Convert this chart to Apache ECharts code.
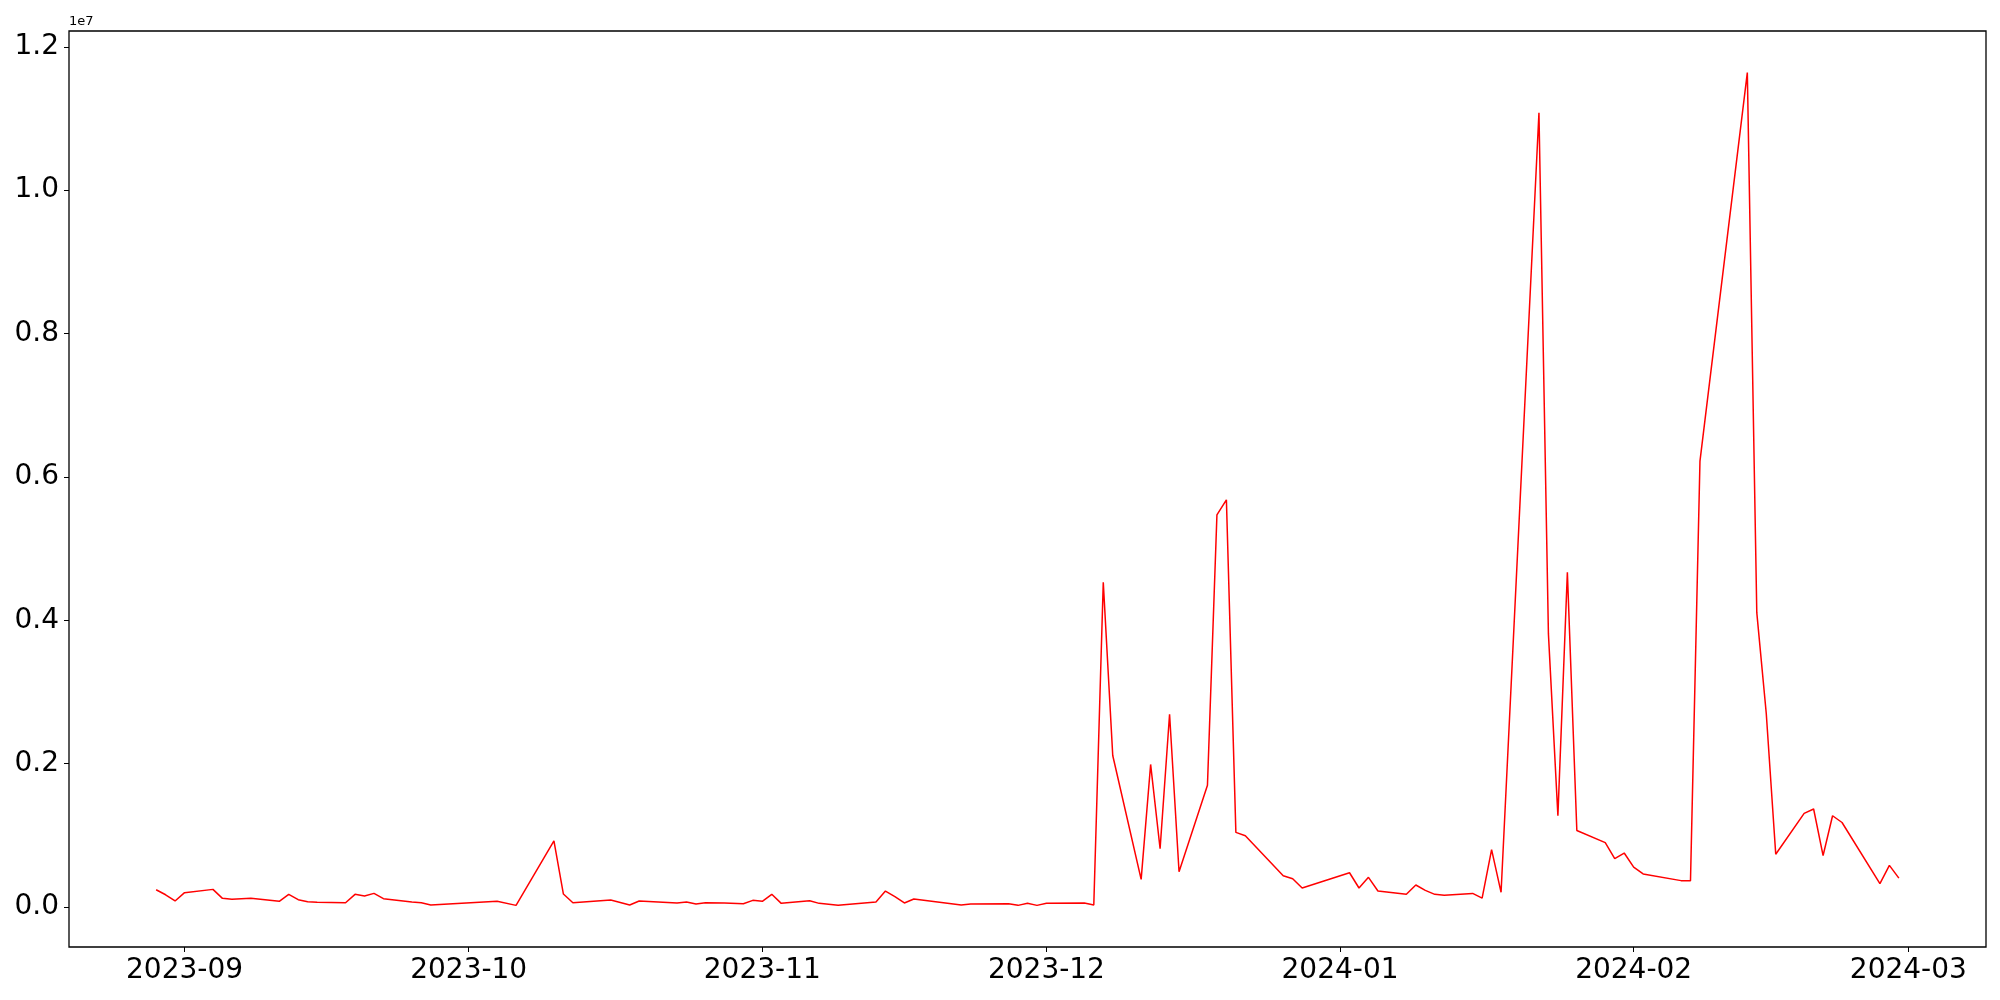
<!DOCTYPE html>
<html>
<head>
<meta charset="utf-8">
<script src="https://cdn.jsdelivr.net/npm/echarts@6/dist/echarts.min.js"></script>
<style>
  html, body { margin: 0; padding: 0; background: #fff; }
  #chart { width: 2000px; height: 1000px; }
</style>
</head>
<body>
<div id="chart"></div>
<script>
// dates
const dates = [
  '2023-08-29', '2023-08-30', '2023-08-31', '2023-09-01', '2023-09-04', '2023-09-05', '2023-09-06',
  '2023-09-08', '2023-09-11', '2023-09-12', '2023-09-13', '2023-09-14', '2023-09-15', '2023-09-18',
  '2023-09-19', '2023-09-20', '2023-09-21', '2023-09-22', '2023-09-25', '2023-09-26', '2023-09-27',
  '2023-10-04', '2023-10-06', '2023-10-10', '2023-10-11', '2023-10-12', '2023-10-16', '2023-10-18',
  '2023-10-19', '2023-10-23', '2023-10-24', '2023-10-25', '2023-10-26', '2023-10-28', '2023-10-30',
  '2023-10-31', '2023-11-01', '2023-11-02', '2023-11-03', '2023-11-06', '2023-11-07', '2023-11-09',
  '2023-11-13', '2023-11-14', '2023-11-15', '2023-11-16', '2023-11-17', '2023-11-22', '2023-11-23',
  '2023-11-27', '2023-11-28', '2023-11-29', '2023-11-30', '2023-12-01', '2023-12-05', '2023-12-06',
  '2023-12-07', '2023-12-08', '2023-12-11', '2023-12-12', '2023-12-13', '2023-12-14', '2023-12-15',
  '2023-12-18', '2023-12-19', '2023-12-20', '2023-12-21', '2023-12-22', '2023-12-26', '2023-12-27',
  '2023-12-28', '2024-01-02', '2024-01-03', '2024-01-04', '2024-01-05', '2024-01-08', '2024-01-09',
  '2024-01-10', '2024-01-11', '2024-01-12', '2024-01-15', '2024-01-16', '2024-01-17', '2024-01-18',
  '2024-01-22', '2024-01-23', '2024-01-24', '2024-01-25', '2024-01-26', '2024-01-29', '2024-01-30',
  '2024-01-31', '2024-02-01', '2024-02-02', '2024-02-06', '2024-02-07', '2024-02-08', '2024-02-13',
  '2024-02-14', '2024-02-15', '2024-02-16', '2024-02-19', '2024-02-20', '2024-02-21', '2024-02-22',
  '2024-02-23', '2024-02-27', '2024-02-28', '2024-02-29'
];

// values in units of 1e6
const values = [
  0.241, 0.171, 0.084, 0.200, 0.246, 0.121, 0.107,
  0.121, 0.079, 0.177, 0.102, 0.074, 0.065, 0.060,
  0.177, 0.153, 0.190, 0.116, 0.070, 0.060, 0.028,
  0.079, 0.023, 0.924, 0.181, 0.060, 0.098, 0.028,
  0.084, 0.056, 0.070, 0.042, 0.060, 0.056, 0.046,
  0.093, 0.079, 0.177, 0.051, 0.088, 0.051, 0.023,
  0.070, 0.223, 0.144, 0.056, 0.111, 0.028, 0.042,
  0.046, 0.023, 0.051, 0.023, 0.051, 0.056, 0.028,
  4.530, 2.114, 0.386, 1.989, 0.813, 2.690, 0.492,
  1.700, 5.470, 5.680, 1.041, 0.994, 0.437, 0.395,
  0.265, 0.478, 0.265, 0.414, 0.223, 0.177, 0.307,
  0.232, 0.177, 0.163, 0.190, 0.125, 0.800, 0.205,
  11.08, 3.810, 1.273, 4.670, 1.068, 0.898, 0.676,
  0.753, 0.556, 0.461, 0.368, 0.368, 6.220, 11.64,
  4.106, 2.700, 0.736, 1.307, 1.367, 0.718, 1.273,
  1.179, 0.326, 0.581, 0.403
];

const monthTicks = ['2023-09-01', '2023-10-01', '2023-11-01', '2023-12-01', '2024-01-01', '2024-02-01', '2024-03-01'];
const yTicks = [0, 2e6, 4e6, 6e6, 8e6, 10e6, 12e6];

function toTime(s) {
  const p = s.split('-');
  return new Date(+p[0], +p[1] - 1, +p[2]).getTime();
}

const pts = dates.map((d, i) => [toTime(d), values[i] * 1e6]);
const t0 = pts[0][0], t1 = pts[pts.length - 1][0];
const xPad = (t1 - t0) * 0.05;
const vMin = Math.min.apply({}, pts.map(p => p[1]));
const vMax = Math.max.apply({}, pts.map(p => p[1]));
const yPad = (vMax - vMin) * 0.05;
const xTickVals = monthTicks.map(toTime);

const chart = echarts.init(document.getElementById('chart'));
chart.setOption({
  animation: false,
  grid: {
    left: 69,
    right: 14,
    top: 31,
    bottom: 53,
    show: true,
    borderColor: '#000',
    borderWidth: 1.3,
    containLabel: false
  },
  xAxis: {
    type: 'value',
    min: t0 - xPad,
    max: t1 + xPad,
    scale: true,
    axisLine: { show: false, onZero: false },
    splitLine: { show: false },
    axisTick: {
      show: true,
      length: 5,
      customValues: xTickVals,
      lineStyle: { color: '#000', width: 1 }
    },
    axisLabel: {
      customValues: xTickVals,
      margin: 10,
      color: '#000',
      fontFamily: 'DejaVu Sans',
      fontSize: 28,
      formatter: function (v) {
        const d = new Date(v);
        const m = d.getMonth() + 1;
        return d.getFullYear() + '-' + (m < 10 ? '0' + m : m);
      }
    }
  },
  yAxis: {
    type: 'value',
    min: vMin - yPad,
    max: vMax + yPad,
    axisLine: { show: false, onZero: false },
    splitLine: { show: false },
    axisTick: {
      show: true,
      length: 5,
      customValues: yTicks,
      lineStyle: { color: '#000', width: 1 }
    },
    axisLabel: {
      customValues: yTicks,
      margin: 10,
      color: '#000',
      fontFamily: 'DejaVu Sans',
      fontSize: 28,
      formatter: function (v) {
        return (v / 1e7).toFixed(1);
      }
    }
  },
  graphic: [
    {
      type: 'text',
      left: 69,
      top: 15,
      style: { text: '1e7', font: '13px "DejaVu Sans"', fill: '#000' }
    }
  ],
  series: [
    {
      type: 'line',
      data: pts,
      showSymbol: false,
      lineStyle: { color: '#ff0000', width: 1.5 },
      itemStyle: { color: '#ff0000' }
    }
  ]
});
</script>
</body>
</html>
